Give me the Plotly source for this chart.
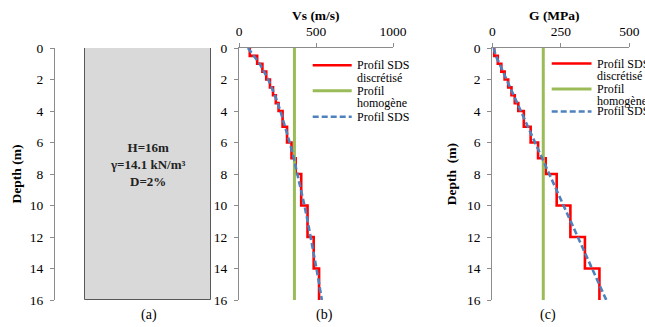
import plotly.graph_objects as go

# ---------------- data ----------------
H_total = 16
depth_tops = [0, 0.5, 1, 1.5, 2, 2.5, 3, 3.5, 4, 5, 6, 7, 8, 10, 12, 14]
vs_layers = [70, 118, 152, 177, 201, 221, 239, 257, 283, 312, 341, 368, 404, 445, 485, 520]
g_layers = [7, 20, 33, 45, 58, 70, 82, 95, 115, 140, 167, 195, 235, 285, 338, 391]

sds_depth = [0, 0.5, 1, 2, 3, 4, 5, 6, 7, 8, 9, 10, 11, 12, 13, 14, 15, 16]
vs_sds = [58, 95, 134, 190, 233, 269, 301, 329, 356, 380, 403, 425, 446, 466, 485, 503, 521, 538]
g_sds = [5, 13, 26, 52, 78, 104, 130, 157, 183, 210, 234, 260, 286, 312, 338, 364, 390, 416]

vs_homog = 360
g_homog = 186

soil_text = ["H=16m", "γ=14.1 kN/m³", "D=2%"]
legend_names = [["Profil SDS", "discrétisé"], ["Profil", "homogène"], ["Profil SDS"]]
vs_ticks = [0, 500, 1000]
g_ticks = [0, 250, 500]
axis_titles = ["Vs (m/s)", "G (MPa)"]
panel_labels = ["(a)", "(b)", "(c)"]

# ---------------- layout helpers ----------------
W, HP = 645, 327
def fx(p):
    return p / W
def fy(p):
    return 1 - p / HP

FONT = "'Liberation Serif', 'Times New Roman', 'DejaVu Serif', serif"
AX = "#8c8c8c"
RED, GREEN, BLUE = "#ff0000", "#9bbb59", "#4f81bd"
DASH = "6px,3px"
TOP, BOT = 48, 300
ydom = [fy(BOT), fy(TOP)]

fig = go.Figure()

# panel (a) soil column
fig.add_trace(go.Bar(x=[0.5], y=[H_total], base=[0], width=[1],
                     marker=dict(color="#d9d9d9", line=dict(color="#595959", width=1)),
                     xaxis="x", yaxis="y", showlegend=False, hoverinfo="skip"))

def add_panel(xa, ya, layers, homog, sds):
    fig.add_trace(go.Scatter(x=layers + [layers[-1]], y=depth_tops + [H_total],
                             mode="lines", line=dict(color=RED, width=2.6, shape="vh"),
                             xaxis=xa, yaxis=ya, showlegend=False))
    fig.add_trace(go.Scatter(x=[homog, homog], y=[0, H_total], mode="lines",
                             line=dict(color=GREEN, width=3),
                             xaxis=xa, yaxis=ya, showlegend=False))
    fig.add_trace(go.Scatter(x=sds, y=sds_depth, mode="lines",
                             line=dict(color=BLUE, width=2.6, dash=DASH),
                             xaxis=xa, yaxis=ya, showlegend=False))

add_panel("x2", "y2", vs_layers, vs_homog, vs_sds)
add_panel("x3", "y3", g_layers, g_homog, g_sds)

tickfont = dict(family=FONT, size=13.5, color="#000")
titlefont = dict(family=FONT, size=13.5, color="#000")

def yax(domain_anchor, title=None, standoff=0):
    d = dict(domain=ydom, anchor=domain_anchor, range=[H_total, 0], showline=True,
             linecolor=AX, linewidth=1, ticks="outside", ticklen=4, tickcolor=AX,
             tick0=0, dtick=2, showgrid=False, zeroline=False, tickfont=tickfont,
             ticklabelstandoff=4, automargin=False)
    if title:
        d["title"] = dict(text="<b>" + title + "</b>", font=titlefont, standoff=standoff)
    return d

def xtop(domain, anchor, rng, tv):
    return dict(domain=domain, anchor=anchor, side="top", range=rng, tickvals=tv,
                showline=True, linecolor=AX, linewidth=1, ticks="outside", ticklen=4,
                tickcolor=AX, showgrid=False, zeroline=False, tickfont=tickfont,
                ticklabelstandoff=2, automargin=False)

fig.update_layout(
    width=W, height=HP, margin=dict(l=0, r=0, t=0, b=0),
    paper_bgcolor="white", plot_bgcolor="white", showlegend=False,
    font=dict(family=FONT),
    xaxis=dict(domain=[fx(55), fx(211)], range=[-0.24, 1], visible=False, anchor="y"),
    yaxis=yax("x", "Depth (m)", 5),
    xaxis2=xtop([fx(239), fx(393)], "y2", [0, 1000], vs_ticks),
    yaxis2=yax("x2"),
    xaxis3=xtop([fx(492.3), fx(629.3)], "y3", [0, 500], g_ticks),
    yaxis3=yax("x3", "Depth\u00a0 (m)", 7),
    bargap=0,
)

annotations = []
# top axis titles
for t, xp in zip(axis_titles, [316, 554]):
    annotations.append(dict(x=fx(xp), y=fy(16), xref="paper", yref="paper", showarrow=False,
                            xanchor="center", yanchor="middle",
                            text="<b>" + t + "</b>", font=titlefont))
# soil text
annotations.append(dict(x=0.5, y=7.4, xref="x", yref="y", showarrow=False,
                        text="<b>" + "<br>".join(soil_text) + "</b>",
                        font=dict(family=FONT, size=13, color="#222")))
# panel labels
for lab, xp in zip(panel_labels, [149, 324, 548]):
    annotations.append(dict(x=fx(xp), y=fy(315), xref="paper", yref="paper", showarrow=False,
                            xanchor="center", yanchor="middle",
                            text=lab, font=dict(family=FONT, size=14, color="#000")))

# manual legends
shapes = []
styles = [dict(color=RED, width=2.6), dict(color=GREEN, width=3), dict(color=BLUE, width=2.6, dash=DASH)]
legend_specs = [
    dict(x0=312.7, x1=351.7, tx=355, rows=[[65.3, 78], [90.7, 103.3], [116.7]]),
    dict(x0=551.7, x1=591.5, tx=595, rows=[[63.5, 75.5], [89, 100.5], [111.5]]),
]
for spec in legend_specs:
    for names, rows, st in zip(legend_names, spec["rows"], styles):
        shapes.append(dict(type="line", xref="paper", yref="paper",
                           x0=fx(spec["x0"]), x1=fx(spec["x1"]), y0=fy(rows[0]), y1=fy(rows[0]),
                           line=st))
        for nm, yy in zip(names, rows):
            annotations.append(dict(x=fx(spec["tx"]), y=fy(yy), xref="paper", yref="paper",
                                    xanchor="left", yanchor="middle", showarrow=False, text=nm,
                                    font=dict(family=FONT, size=12, color="#000")))

fig.update_layout(annotations=annotations, shapes=shapes)
fig.write_html("out.html", config={"displayModeBar": False},
               post_script="document.body.style.margin='0';document.body.style.overflow='hidden';")
